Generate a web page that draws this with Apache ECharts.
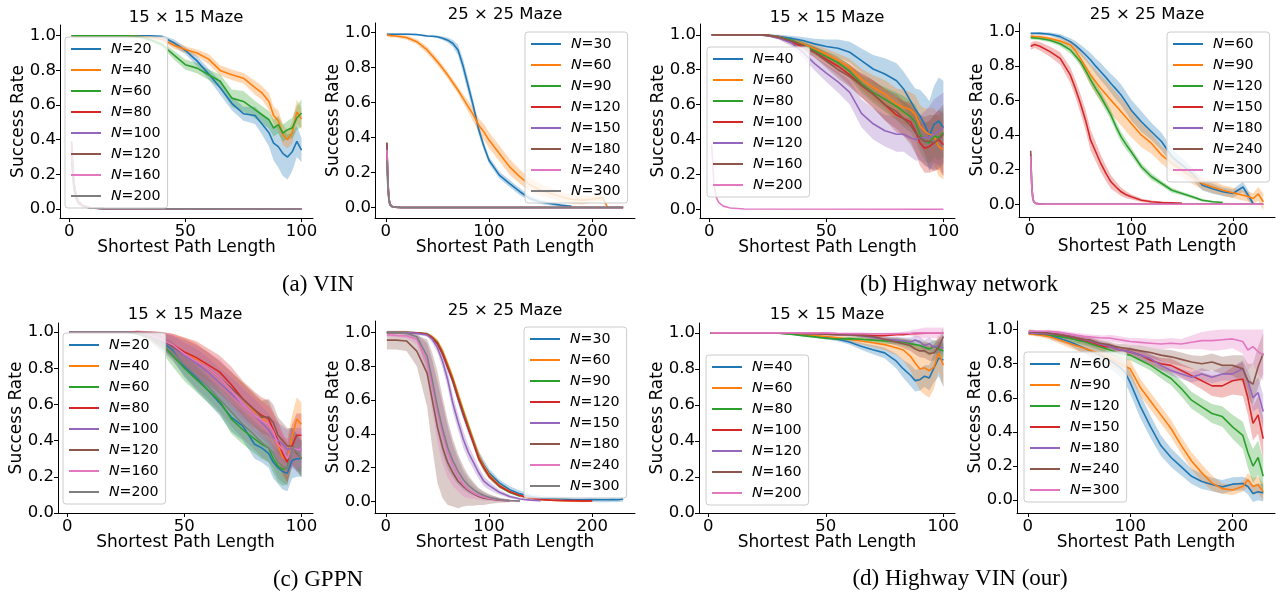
<!DOCTYPE html>
<html>
<head>
<meta charset="utf-8">
<script src="https://cdn.jsdelivr.net/npm/echarts@6/dist/echarts.min.js"></script>
<style>html,body{margin:0;padding:0;background:#fff;}#c{width:1279px;height:593px;}</style>
</head>
<body>
<div id="c"></div>
<script>
// ---------- shared x positions (shortest path length) ----------
const X15 = [1,5,10,15,20,25,30,35,40,45,50,55,60,65,70,75,80,83,86,88,90,92,94,96,98,100];
const X25 = [1,5,10,20,30,40,45,50,55,60,65,70,75,80,85,90,95,100,110,120,130,140,150,160,170,180,190,200,210,215,220,225,230];
const XC15 = [1,2,3,4,6,9,15,100];
const XC25 = [1,2,3,4,6,9,15,230];
const XT15 = [0,50,100];
const XT25 = [0,100,200];
const YT = [0,0.2,0.4,0.6,0.8,1.0];

// ---------- (a) VIN, 15x15 ----------
const vin15_N20 = [1,1,1,1,1,1,1,1,0.995,0.96,0.915,0.855,0.78,0.70,0.61,0.55,0.54,0.49,0.44,0.38,0.36,0.32,0.30,0.33,0.39,0.34];
const vin15_N20_e = [0.003,0.003,0.003,0.003,0.003,0.003,0.003,0.005,0.008,0.02,0.02,0.03,0.03,0.04,0.04,0.04,0.05,0.06,0.08,0.1,0.12,0.13,0.13,0.11,0.09,0.07];
const vin15_N40 = [1,1,1,1,1,1,0.995,0.99,0.98,0.945,0.92,0.90,0.865,0.80,0.775,0.755,0.70,0.67,0.62,0.54,0.51,0.43,0.40,0.44,0.56,0.52];
const vin15_N40_e = [0.003,0.003,0.003,0.003,0.003,0.003,0.005,0.006,0.01,0.02,0.02,0.02,0.03,0.03,0.03,0.03,0.04,0.04,0.05,0.05,0.06,0.06,0.05,0.06,0.07,0.06];
const vin15_N60 = [1,1,1,1,1,1,0.995,0.977,0.948,0.89,0.833,0.813,0.775,0.737,0.64,0.621,0.573,0.544,0.515,0.467,0.487,0.438,0.458,0.467,0.525,0.554];
const vin15_N60_e = [0.003,0.003,0.003,0.003,0.003,0.004,0.006,0.01,0.015,0.025,0.03,0.03,0.03,0.04,0.05,0.06,0.05,0.05,0.05,0.05,0.05,0.05,0.05,0.06,0.07,0.08];
const vin15_N80 = [0.36,0.15,0.075,0.04,0.018,0.007,0.002,0];
const vin15_N100 = [0.33,0.14,0.07,0.037,0.016,0.006,0.002,0];
const vin15_N120 = [0.39,0.16,0.08,0.045,0.02,0.008,0.002,0];
const vin15_N160 = [0.38,0.16,0.08,0.043,0.019,0.008,0.002,0];
const vin15_N200 = [0.27,0.12,0.06,0.032,0.014,0.006,0.002,0];

// ---------- (a) VIN, 25x25 ----------
const vin25_N30 = [0.99,0.99,0.99,0.99,0.988,0.98,0.978,0.975,0.967,0.956,0.937,0.90,0.805,0.69,0.575,0.445,0.35,0.27,0.185,0.137,0.09,0.05,0.032,0.022,0.013,0.007,null,null,null,null,null,null,null];
const vin25_N30_e = [0.005,0.005,0.005,0.005,0.005,0.006,0.006,0.008,0.01,0.015,0.02,0.03,0.04,0.04,0.035,0.03,0.025,0.02,0.02,0.02,0.02,0.015,0.012,0.01,0.008,0.005,null,null,null,null,null,null,null];
const vin25_N60 = [0.985,0.982,0.98,0.971,0.947,0.90,0.867,0.832,0.795,0.756,0.713,0.67,0.622,0.575,0.528,0.47,0.432,0.385,0.309,0.232,0.175,0.128,0.099,0.08,0.061,0.046,0.042,0.048,0.057,0,null,null,null];
const vin25_N60_e = [0.01,0.01,0.01,0.012,0.015,0.02,0.02,0.02,0.02,0.02,0.02,0.02,0.025,0.03,0.04,0.04,0.045,0.045,0.045,0.045,0.04,0.04,0.035,0.03,0.03,0.025,0.025,0.02,0.02,0.005,null,null,null];
const vin25_N90 = [0.30,0.12,0.04,0.015,0.005,0.002,0,0];
const vin25_N120 = [0.37,0.15,0.05,0.02,0.006,0.002,0,0];
const vin25_N150 = [0.36,0.14,0.05,0.02,0.006,0.002,0,0];
const vin25_N180 = [0.37,0.15,0.05,0.02,0.006,0.002,0,0];
const vin25_N240 = [0.33,0.13,0.045,0.018,0.005,0.002,0,0];
const vin25_N300 = [0.27,0.11,0.04,0.015,0.005,0.002,0,0];

// ---------- (b) Highway network, 15x15 ----------
const hw15_N40 = [1,1,1,1,1,0.998,0.99,0.98,0.967,0.948,0.933,0.923,0.90,0.852,0.804,0.775,0.737,0.69,0.62,0.573,0.535,0.487,0.42,0.487,0.506,0.467];
const hw15_N40_e = [0.002,0.002,0.002,0.002,0.003,0.005,0.01,0.015,0.02,0.03,0.04,0.05,0.06,0.07,0.08,0.09,0.1,0.1,0.11,0.12,0.15,0.17,0.2,0.22,0.25,0.27];
const hw15_N60 = [1,1,1,1,1,0.997,0.987,0.967,0.948,0.919,0.89,0.852,0.813,0.746,0.698,0.66,0.602,0.585,0.57,0.544,0.477,0.448,0.429,0.42,0.36,0.342];
const hw15_N60_e = [0.002,0.002,0.002,0.002,0.003,0.005,0.01,0.015,0.02,0.025,0.03,0.04,0.05,0.06,0.07,0.08,0.09,0.1,0.1,0.11,0.12,0.13,0.15,0.16,0.17,0.17];
const hw15_N80 = [1,1,1,1,1,0.997,0.985,0.97,0.94,0.91,0.875,0.84,0.79,0.72,0.67,0.63,0.59,0.56,0.53,0.5,0.43,0.39,0.38,0.42,0.41,0.44];
const hw15_N80_e = [0.002,0.002,0.002,0.002,0.003,0.005,0.01,0.015,0.02,0.025,0.03,0.035,0.04,0.05,0.06,0.07,0.08,0.09,0.09,0.1,0.1,0.11,0.12,0.12,0.13,0.14];
const hw15_N100 = [1,1,1,1,1,0.997,0.985,0.96,0.93,0.9,0.86,0.82,0.77,0.71,0.66,0.6,0.54,0.52,0.5,0.45,0.38,0.35,0.36,0.38,0.4,0.37];
const hw15_N100_e = [0.002,0.002,0.002,0.002,0.003,0.005,0.01,0.015,0.02,0.03,0.04,0.05,0.06,0.07,0.08,0.09,0.1,0.1,0.11,0.12,0.13,0.14,0.15,0.16,0.17,0.18];
const hw15_N120 = [1,1,1,1,1,0.995,0.98,0.955,0.9,0.835,0.78,0.73,0.67,0.55,0.49,0.45,0.43,0.43,0.41,0.40,0.41,0.41,0.41,0.43,0.45,0.47];
const hw15_N120_e = [0.002,0.002,0.002,0.002,0.003,0.005,0.01,0.02,0.03,0.04,0.05,0.06,0.07,0.08,0.09,0.09,0.1,0.1,0.11,0.12,0.13,0.15,0.18,0.2,0.2,0.2];
const hw15_N160 = [1,1,1,1,1,0.997,0.985,0.965,0.94,0.9,0.85,0.8,0.76,0.71,0.66,0.6,0.56,0.52,0.48,0.44,0.41,0.39,0.39,0.38,0.4,0.43];
const hw15_N160_e = [0.002,0.002,0.002,0.002,0.003,0.005,0.01,0.015,0.02,0.03,0.04,0.05,0.06,0.07,0.08,0.09,0.1,0.1,0.11,0.12,0.13,0.14,0.15,0.16,0.17,0.17];
const hw15_N200 = [0.37,0.15,0.07,0.04,0.018,0.007,0.002,0];

// ---------- (b) Highway network, 25x25 ----------
const hw25_N60 = [0.99,0.99,0.99,0.985,0.971,0.942,0.92,0.894,0.866,0.836,0.80,0.768,0.735,0.70,0.667,0.633,0.59,0.545,0.478,0.42,0.362,0.275,0.226,0.178,0.11,0.09,0.072,0.062,0.10,0.052,0.004,null,null];
const hw25_N60_e = [0.005,0.005,0.008,0.01,0.015,0.02,0.025,0.03,0.035,0.04,0.045,0.05,0.05,0.055,0.06,0.06,0.06,0.06,0.06,0.05,0.05,0.045,0.04,0.035,0.03,0.03,0.025,0.025,0.03,0.03,0.01,null,null];
const hw25_N90 = [0.975,0.972,0.97,0.96,0.945,0.923,0.89,0.845,0.797,0.749,0.71,0.671,0.637,0.603,0.57,0.536,0.502,0.468,0.40,0.352,0.284,0.236,0.197,0.159,0.12,0.10,0.081,0.066,0.052,0.045,0.033,0.06,0.014];
const hw25_N90_e = [0.01,0.01,0.01,0.012,0.015,0.02,0.03,0.04,0.05,0.06,0.07,0.075,0.08,0.08,0.08,0.08,0.08,0.08,0.07,0.06,0.05,0.05,0.04,0.04,0.035,0.035,0.03,0.03,0.03,0.03,0.03,0.04,0.05];
const hw25_N120 = [0.965,0.963,0.96,0.95,0.93,0.894,0.86,0.826,0.775,0.72,0.67,0.623,0.57,0.516,0.45,0.39,0.345,0.304,0.217,0.159,0.12,0.081,0.062,0.043,0.023,0.014,0.01,null,null,null,null,null,null];
const hw25_N120_e = [0.01,0.01,0.01,0.012,0.015,0.02,0.02,0.025,0.025,0.03,0.03,0.03,0.03,0.03,0.03,0.03,0.03,0.025,0.02,0.02,0.015,0.015,0.01,0.01,0.008,0.006,0.005,null,null,null,null,null,null];
const hw25_N150 = [0.915,0.925,0.915,0.884,0.845,0.749,0.671,0.584,0.487,0.371,0.304,0.236,0.18,0.13,0.10,0.072,0.055,0.043,0.023,0.014,0.01,0.008,0.006,null,null,null,null,null,null,null,null,null,null];
const hw25_N150_e = [0.02,0.02,0.025,0.03,0.035,0.045,0.05,0.055,0.06,0.06,0.055,0.05,0.045,0.04,0.03,0.025,0.02,0.015,0.01,0.008,0.006,0.005,0.004,null,null,null,null,null,null,null,null,null,null];
const hw25_N180 = [0.29,0.11,0.04,0.015,0.005,0.002,0,0];
const hw25_N240 = [0.31,0.12,0.04,0.015,0.005,0.002,0,0];
const hw25_N300 = [0.28,0.11,0.04,0.015,0.005,0.002,0,0];

// ---------- (c) GPPN, 15x15 ----------
const gp15_N20 = [1,1,1,1,1,1,0.995,0.98,0.95,0.9,0.81,0.75,0.68,0.61,0.53,0.48,0.38,0.36,0.33,0.28,0.25,0.23,0.22,0.29,0.3,0.3];
const gp15_N20_e = [0.002,0.002,0.002,0.002,0.002,0.003,0.01,0.02,0.035,0.05,0.06,0.07,0.07,0.07,0.08,0.08,0.08,0.08,0.08,0.09,0.09,0.1,0.1,0.1,0.1,0.1];
const gp15_N40 = [1,1,1,1,1,1,0.997,0.985,0.96,0.93,0.89,0.85,0.80,0.75,0.69,0.63,0.56,0.53,0.49,0.45,0.37,0.31,0.29,0.42,0.52,0.49];
const gp15_N40_e = [0.002,0.002,0.002,0.002,0.002,0.003,0.01,0.02,0.04,0.06,0.08,0.09,0.09,0.09,0.09,0.09,0.09,0.09,0.1,0.1,0.11,0.11,0.12,0.12,0.12,0.12];
const gp15_N60 = [1,1,1,1,1,1,0.993,0.975,0.94,0.87,0.80,0.74,0.68,0.62,0.52,0.46,0.41,0.38,0.36,0.3,0.26,0.24,0.25,0.37,0.34,0.3];
const gp15_N60_e = [0.002,0.002,0.002,0.002,0.002,0.003,0.01,0.025,0.045,0.06,0.07,0.07,0.07,0.07,0.08,0.08,0.08,0.08,0.08,0.08,0.09,0.09,0.09,0.1,0.1,0.1];
const gp15_N80 = [1,1,1,1,1,1,0.997,0.985,0.96,0.93,0.89,0.86,0.82,0.78,0.71,0.63,0.57,0.54,0.52,0.46,0.4,0.33,0.28,0.37,0.43,0.43];
const gp15_N80_e = [0.002,0.002,0.002,0.002,0.002,0.003,0.01,0.02,0.04,0.06,0.08,0.09,0.09,0.09,0.1,0.1,0.1,0.1,0.1,0.1,0.11,0.11,0.11,0.12,0.12,0.12];
const gp15_N100 = [1,1,1,1,1,1,0.996,0.98,0.955,0.92,0.87,0.83,0.78,0.72,0.66,0.6,0.54,0.5,0.46,0.42,0.4,0.38,0.35,0.36,0.35,0.35];
const gp15_N100_e = [0.002,0.002,0.002,0.002,0.002,0.003,0.01,0.02,0.04,0.06,0.07,0.08,0.08,0.08,0.09,0.09,0.09,0.09,0.09,0.1,0.1,0.1,0.11,0.11,0.12,0.12];
const gp15_N120 = [1,1,1,1,1,1,0.997,0.985,0.96,0.92,0.88,0.84,0.80,0.75,0.69,0.63,0.57,0.53,0.53,0.5,0.43,0.4,0.37,0.37,0.33,0.3];
const gp15_N120_e = [0.002,0.002,0.002,0.002,0.002,0.003,0.01,0.02,0.04,0.06,0.08,0.09,0.09,0.09,0.09,0.09,0.09,0.09,0.1,0.1,0.1,0.1,0.1,0.1,0.1,0.1];
const gp15_N160 = [1,1,1,1,1,1,0.997,0.985,0.96,0.93,0.88,0.84,0.80,0.75,0.68,0.6,0.54,0.51,0.49,0.45,0.38,0.35,0.3,0.36,0.35,0.35];
const gp15_N160_e = [0.002,0.002,0.002,0.002,0.002,0.003,0.01,0.02,0.04,0.06,0.08,0.09,0.09,0.1,0.1,0.1,0.1,0.1,0.1,0.1,0.1,0.1,0.1,0.1,0.1,0.1];
const gp15_N200 = [1,1,1,1,1,1,0.995,0.975,0.94,0.89,0.82,0.76,0.70,0.63,0.56,0.49,0.43,0.39,0.36,0.33,0.28,0.26,0.24,0.36,0.34,0.3];
const gp15_N200_e = [0.002,0.002,0.002,0.002,0.002,0.003,0.01,0.02,0.035,0.05,0.06,0.07,0.07,0.07,0.08,0.08,0.08,0.08,0.08,0.08,0.09,0.09,0.09,0.1,0.1,0.1];

// ---------- (c) GPPN, 25x25 ----------
const gp25_N30 = [1,1,1,1,0.998,0.99,0.968,0.935,0.875,0.795,0.71,0.61,0.515,0.43,0.35,0.27,0.215,0.17,0.11,0.07,0.045,0.03,0.02,0.018,0.015,0.012,0.01,0.012,0.01,0.01,0.012,0.01,0.015];
const gp25_N30_e = [0.005,0.005,0.005,0.005,0.005,0.008,0.01,0.015,0.02,0.025,0.025,0.03,0.03,0.03,0.03,0.03,0.03,0.025,0.02,0.02,0.02,0.015,0.015,0.015,0.015,0.015,0.015,0.015,0.015,0.015,0.015,0.015,0.015];
const gp25_N60 = [1,1,1,1,0.998,0.99,0.975,0.945,0.89,0.81,0.73,0.635,0.54,0.45,0.36,0.27,0.21,0.16,0.095,0.06,0.035,0.02,0.012,0.008,0.005,0.003,0.002,0.002,null,null,null,null,null];
const gp25_N60_e = [0.005,0.005,0.005,0.005,0.005,0.008,0.01,0.015,0.02,0.025,0.025,0.025,0.025,0.025,0.025,0.025,0.02,0.02,0.015,0.01,0.008,0.005,0.004,0.003,0.003,0.002,0.002,0.002,null,null,null,null,null];
const gp25_N90 = [1,1,1,1,0.998,0.99,0.97,0.94,0.88,0.80,0.72,0.62,0.53,0.44,0.35,0.26,0.2,0.15,0.09,0.055,0.032,null,null,null,null,null,null,null,null,null,null,null,null];
const gp25_N90_e = [0.005,0.005,0.005,0.005,0.005,0.008,0.01,0.015,0.02,0.02,0.02,0.02,0.02,0.02,0.02,0.02,0.02,0.015,0.01,0.008,0.006,null,null,null,null,null,null,null,null,null,null,null,null];
const gp25_N120 = [1,1,1,1,0.998,0.99,0.968,0.935,0.875,0.795,0.715,0.615,0.52,0.43,0.345,0.255,0.2,0.15,0.092,0.058,0.035,0.02,0.012,0.008,0.006,0.005,0.004,0.004,null,null,null,null,null];
const gp25_N120_e = [0.005,0.005,0.005,0.005,0.005,0.008,0.01,0.015,0.02,0.02,0.02,0.02,0.02,0.02,0.02,0.02,0.02,0.015,0.01,0.008,0.006,0.005,0.004,0.003,0.003,0.003,0.003,0.003,null,null,null,null,null];
const gp25_N150 = [1,1,1,1,0.995,0.985,0.96,0.91,0.83,0.72,0.58,0.47,0.37,0.29,0.23,0.17,0.12,0.095,0.055,0.03,0.015,0.008,0.005,null,null,null,null,null,null,null,null,null,null];
const gp25_N150_e = [0.005,0.005,0.005,0.005,0.008,0.01,0.02,0.03,0.04,0.05,0.05,0.05,0.05,0.045,0.04,0.035,0.03,0.025,0.015,0.01,0.006,0.004,0.003,null,null,null,null,null,null,null,null,null,null];
const gp25_N180 = [0.955,0.955,0.955,0.95,0.89,0.76,0.6,0.44,0.32,0.23,0.17,0.12,0.09,0.065,0.045,0.03,0.02,0.015,0.007,0.003,null,null,null,null,null,null,null,null,null,null,null,null,null];
const gp25_N180_e = [0.055,0.055,0.055,0.06,0.09,0.2,0.28,0.33,0.3,0.25,0.2,0.16,0.12,0.09,0.07,0.05,0.04,0.03,0.015,0.008,null,null,null,null,null,null,null,null,null,null,null,null,null];
const gp25_N240 = [0.985,0.985,0.982,0.98,0.96,0.83,0.68,0.53,0.4,0.29,0.21,0.15,0.1,0.07,0.05,0.035,0.025,0.018,0.01,0.005,0.003,null,null,null,null,null,null,null,null,null,null,null,null];
const gp25_N240_e = [0.01,0.01,0.01,0.015,0.03,0.1,0.15,0.18,0.18,0.15,0.12,0.09,0.07,0.05,0.035,0.025,0.02,0.015,0.01,0.005,0.003,null,null,null,null,null,null,null,null,null,null,null,null];
const gp25_N300 = [1,1,1,0.995,0.975,0.86,0.72,0.56,0.43,0.32,0.24,0.18,0.13,0.095,0.07,0.05,0.035,0.025,0.012,0.006,0.003,null,null,null,null,null,null,null,null,null,null,null,null];
const gp25_N300_e = [0.005,0.005,0.005,0.01,0.02,0.08,0.12,0.15,0.15,0.13,0.1,0.08,0.06,0.045,0.035,0.025,0.02,0.015,0.01,0.005,0.003,null,null,null,null,null,null,null,null,null,null,null,null];

// ---------- (d) Highway VIN, 15x15 ----------
const hv15_N40 = [1,1,1,1,1,1,0.998,0.995,0.99,0.982,0.975,0.965,0.95,0.926,0.907,0.889,0.843,0.8,0.765,0.735,0.74,0.76,0.75,0.805,0.86,0.85];
const hv15_N40_e = [0.001,0.001,0.001,0.001,0.001,0.001,0.002,0.003,0.005,0.008,0.01,0.012,0.015,0.02,0.025,0.03,0.04,0.05,0.06,0.06,0.06,0.06,0.07,0.08,0.1,0.15];
const hv15_N60 = [1,1,1,1,1,1,0.998,0.995,0.99,0.985,0.98,0.973,0.965,0.955,0.945,0.935,0.917,0.905,0.87,0.833,0.8,0.806,0.79,0.81,0.889,0.82];
const hv15_N60_e = [0.001,0.001,0.001,0.001,0.001,0.001,0.002,0.003,0.005,0.008,0.01,0.012,0.015,0.02,0.025,0.03,0.04,0.06,0.08,0.1,0.12,0.15,0.15,0.12,0.1,0.12];
const hv15_N80 = [1,1,1,1,1,1,0.998,0.993,0.985,0.978,0.97,0.966,0.968,0.965,0.96,0.955,0.955,0.95,0.94,0.935,0.93,0.92,0.91,0.925,0.91,0.9];
const hv15_N80_e = [0.001,0.001,0.001,0.001,0.001,0.001,0.002,0.003,0.004,0.005,0.006,0.008,0.01,0.012,0.015,0.015,0.02,0.02,0.025,0.025,0.03,0.03,0.035,0.035,0.04,0.04];
const hv15_N100 = [1,1,1,1,1,1,1,1,0.998,0.997,0.995,0.993,0.99,0.99,0.985,0.985,0.99,0.99,0.995,0.995,0.997,0.998,1,1,1,1];
const hv15_N120 = [1,1,1,1,1,1,1,0.998,0.997,0.995,0.993,0.99,0.99,0.985,0.975,0.965,0.96,0.955,0.95,0.96,0.95,0.93,0.94,0.92,0.93,0.915];
const hv15_N120_e = [0.001,0.001,0.001,0.001,0.001,0.001,0.001,0.002,0.003,0.004,0.005,0.006,0.008,0.01,0.012,0.015,0.02,0.02,0.025,0.025,0.03,0.03,0.035,0.035,0.04,0.04];
const hv15_N160 = [1,1,1,1,1,1,1,0.998,0.997,0.995,0.993,0.99,0.99,0.985,0.98,0.965,0.95,0.94,0.93,0.91,0.9,0.9,0.885,0.89,0.92,0.98];
const hv15_N160_e = [0.001,0.001,0.001,0.001,0.001,0.001,0.001,0.002,0.003,0.004,0.005,0.006,0.008,0.01,0.012,0.015,0.02,0.025,0.03,0.03,0.035,0.04,0.04,0.045,0.05,0.05];
const hv15_N200 = [1,1,1,1,1,1,1,1,1,1,1,0.998,0.997,0.996,0.995,0.995,0.995,0.997,0.998,1,1,1,1,1,1,1];
const hv15_N200_e = [0,0,0,0,0,0,0,0,0,0,0,0.002,0.003,0.004,0.005,0.006,0.008,0.01,0.015,0.02,0.025,0.03,0.03,0.03,0.03,0.03];

// ---------- (d) Highway VIN, 25x25 ----------
const hv25_N60 = [0.98,0.978,0.975,0.965,0.95,0.93,0.918,0.905,0.892,0.879,0.865,0.85,0.835,0.82,0.8,0.78,0.75,0.69,0.55,0.43,0.32,0.25,0.195,0.14,0.11,0.092,0.078,0.094,0.098,0.08,0.039,0.049,0.043];
const hv25_N60_e = [0.01,0.01,0.01,0.015,0.02,0.02,0.025,0.03,0.03,0.035,0.04,0.04,0.045,0.05,0.05,0.055,0.06,0.065,0.07,0.065,0.06,0.055,0.05,0.045,0.045,0.04,0.04,0.04,0.04,0.045,0.05,0.05,0.05];
const hv25_N90 = [0.975,0.972,0.97,0.96,0.94,0.92,0.91,0.9,0.89,0.88,0.87,0.86,0.845,0.83,0.815,0.8,0.785,0.77,0.66,0.58,0.50,0.42,0.32,0.23,0.16,0.10,0.068,0.06,0.08,0.12,0.08,0.09,0.05];
const hv25_N90_e = [0.01,0.01,0.012,0.015,0.02,0.025,0.025,0.03,0.03,0.03,0.03,0.035,0.035,0.04,0.04,0.04,0.045,0.05,0.05,0.05,0.05,0.05,0.05,0.05,0.05,0.045,0.03,0.03,0.03,0.04,0.05,0.05,0.05];
const hv25_N120 = [0.98,0.978,0.976,0.97,0.96,0.95,0.943,0.935,0.93,0.92,0.91,0.9,0.89,0.88,0.87,0.86,0.855,0.85,0.82,0.79,0.75,0.713,0.654,0.586,0.547,0.508,0.49,0.43,0.38,0.28,0.2,0.25,0.14];
const hv25_N120_e = [0.01,0.01,0.01,0.012,0.015,0.015,0.02,0.02,0.02,0.02,0.02,0.02,0.025,0.025,0.025,0.025,0.03,0.03,0.03,0.03,0.035,0.04,0.045,0.05,0.05,0.055,0.06,0.07,0.08,0.09,0.1,0.1,0.1];
const hv25_N150 = [0.98,0.978,0.977,0.975,0.97,0.96,0.953,0.945,0.938,0.93,0.92,0.91,0.9,0.9,0.89,0.88,0.875,0.87,0.85,0.82,0.8,0.79,0.76,0.73,0.7,0.67,0.67,0.7,0.71,0.6,0.45,0.5,0.36];
const hv25_N150_e = [0.01,0.01,0.01,0.01,0.012,0.015,0.015,0.015,0.02,0.02,0.02,0.02,0.02,0.02,0.02,0.02,0.02,0.025,0.03,0.03,0.035,0.04,0.04,0.045,0.05,0.06,0.07,0.08,0.1,0.1,0.1,0.11,0.12];
const hv25_N180 = [0.98,0.978,0.977,0.975,0.97,0.96,0.955,0.948,0.94,0.935,0.925,0.915,0.91,0.9,0.89,0.88,0.875,0.87,0.85,0.83,0.79,0.76,0.74,0.72,0.74,0.72,0.74,0.74,0.77,0.7,0.6,0.63,0.52];
const hv25_N180_e = [0.01,0.01,0.01,0.01,0.012,0.015,0.015,0.015,0.015,0.02,0.02,0.02,0.02,0.02,0.02,0.02,0.02,0.025,0.025,0.03,0.03,0.03,0.03,0.03,0.035,0.035,0.04,0.04,0.05,0.06,0.08,0.09,0.1];
const hv25_N240 = [0.99,0.988,0.985,0.98,0.97,0.96,0.955,0.948,0.942,0.94,0.93,0.92,0.915,0.91,0.9,0.895,0.89,0.885,0.875,0.865,0.85,0.84,0.825,0.81,0.8,0.81,0.79,0.79,0.77,0.7,0.68,0.78,0.86];
const hv25_N240_e = [0.01,0.01,0.01,0.01,0.012,0.015,0.015,0.015,0.015,0.02,0.02,0.02,0.02,0.02,0.02,0.02,0.025,0.025,0.03,0.03,0.035,0.04,0.04,0.04,0.045,0.05,0.05,0.06,0.08,0.1,0.12,0.12,0.12];
const hv25_N300 = [0.99,0.99,0.99,0.99,0.985,0.975,0.97,0.965,0.96,0.958,0.955,0.952,0.95,0.95,0.945,0.94,0.935,0.93,0.925,0.92,0.915,0.92,0.915,0.925,0.935,0.935,0.94,0.945,0.93,0.88,0.9,0.87,0.85];
const hv25_N300_e = [0.005,0.005,0.005,0.008,0.01,0.012,0.012,0.015,0.015,0.015,0.015,0.015,0.015,0.02,0.02,0.02,0.02,0.02,0.025,0.025,0.03,0.03,0.03,0.04,0.05,0.06,0.06,0.055,0.07,0.12,0.1,0.13,0.15];

// ---------- panel definitions ----------
const PANELS = [
  {key:'vin15', title:'15 × 15 Maze', ns:[20,40,60,80,100,120,160,200],
   xs:[X15,X15,X15,XC15,XC15,XC15,XC15,XC15],
   ys:[vin15_N20,vin15_N40,vin15_N60,vin15_N80,vin15_N100,vin15_N120,vin15_N160,vin15_N200],
   es:[vin15_N20_e,vin15_N40_e,vin15_N60_e,null,null,null,null,null]},
  {key:'vin25', title:'25 × 25 Maze', ns:[30,60,90,120,150,180,240,300],
   xs:[X25,X25,XC25,XC25,XC25,XC25,XC25,XC25],
   ys:[vin25_N30,vin25_N60,vin25_N90,vin25_N120,vin25_N150,vin25_N180,vin25_N240,vin25_N300],
   es:[vin25_N30_e,vin25_N60_e,null,null,null,null,null,null]},
  {key:'hw15', title:'15 × 15 Maze', ns:[40,60,80,100,120,160,200],
   xs:[X15,X15,X15,X15,X15,X15,XC15],
   ys:[hw15_N40,hw15_N60,hw15_N80,hw15_N100,hw15_N120,hw15_N160,hw15_N200],
   es:[hw15_N40_e,hw15_N60_e,hw15_N80_e,hw15_N100_e,hw15_N120_e,hw15_N160_e,null]},
  {key:'hw25', title:'25 × 25 Maze', ns:[60,90,120,150,180,240,300],
   xs:[X25,X25,X25,X25,XC25,XC25,XC25],
   ys:[hw25_N60,hw25_N90,hw25_N120,hw25_N150,hw25_N180,hw25_N240,hw25_N300],
   es:[hw25_N60_e,hw25_N90_e,hw25_N120_e,hw25_N150_e,null,null,null]},
  {key:'gp15', title:'15 × 15 Maze', ns:[20,40,60,80,100,120,160,200],
   xs:[X15,X15,X15,X15,X15,X15,X15,X15],
   ys:[gp15_N20,gp15_N40,gp15_N60,gp15_N80,gp15_N100,gp15_N120,gp15_N160,gp15_N200],
   es:[gp15_N20_e,gp15_N40_e,gp15_N60_e,gp15_N80_e,gp15_N100_e,gp15_N120_e,gp15_N160_e,gp15_N200_e]},
  {key:'gp25', title:'25 × 25 Maze', ns:[30,60,90,120,150,180,240,300],
   xs:[X25,X25,X25,X25,X25,X25,X25,X25],
   ys:[gp25_N30,gp25_N60,gp25_N90,gp25_N120,gp25_N150,gp25_N180,gp25_N240,gp25_N300],
   es:[gp25_N30_e,gp25_N60_e,gp25_N90_e,gp25_N120_e,gp25_N150_e,gp25_N180_e,gp25_N240_e,gp25_N300_e]},
  {key:'hv15', title:'15 × 15 Maze', ns:[40,60,80,100,120,160,200],
   xs:[X15,X15,X15,X15,X15,X15,X15],
   ys:[hv15_N40,hv15_N60,hv15_N80,hv15_N100,hv15_N120,hv15_N160,hv15_N200],
   es:[hv15_N40_e,hv15_N60_e,hv15_N80_e,null,hv15_N120_e,hv15_N160_e,hv15_N200_e]},
  {key:'hv25', title:'25 × 25 Maze', ns:[60,90,120,150,180,240,300],
   xs:[X25,X25,X25,X25,X25,X25,X25],
   ys:[hv25_N60,hv25_N90,hv25_N120,hv25_N150,hv25_N180,hv25_N240,hv25_N300],
   es:[hv25_N60_e,hv25_N90_e,hv25_N120_e,hv25_N150_e,hv25_N180_e,hv25_N240_e,hv25_N300_e]}
];

const CAPTIONS = ['(a) VIN','(b) Highway network','(c) GPPN','(d) Highway VIN (our)'];

// ---------- layout (pixels) ----------
const LAYOUT = [
  {left:60,  top:25,  width:253, height:193, xmin:-3.95, xmax:104.95, ymin:-0.052, ymax:1.062, xt:XT15, lg:[65,37],   tx:186, ty:18},
  {left:375, top:23,  width:260, height:195, xmin:-10.5, xmax:241.5,  ymin:-0.06,  ymax:1.054, xt:XT25, lg:[525,32],  tx:505, ty:15},
  {left:700, top:24,  width:255, height:194, xmin:-3.95, xmax:104.95, ymin:-0.05,  ymax:1.062, xt:XT15, lg:[707,47],  tx:827, ty:18},
  {left:1019,top:23,  width:256, height:194, xmin:-10.5, xmax:241.5,  ymin:-0.074, ymax:1.05,  xt:XT25, lg:[1167,32], tx:1147, ty:15},
  {left:58,  top:323, width:255, height:190, xmin:-3.95, xmax:104.95, ymin:0,      ymax:1.05,  xt:XT15, lg:[63,333],  tx:185, ty:315},
  {left:375, top:321, width:260, height:192, xmin:-10.5, xmax:241.5,  ymin:-0.068, ymax:1.068, xt:XT25, lg:[524,327], tx:505, ty:311},
  {left:699, top:323, width:256, height:190, xmin:-3.95, xmax:104.95, ymin:0,      ymax:1.055, xt:XT15, lg:[706,355], tx:827, ty:315},
  {left:1017,top:321, width:258, height:192, xmin:-10.5, xmax:241.5,  ymin:-0.075, ymax:1.05,  xt:XT25, lg:[1024,352],tx:1147, ty:310}
];
const CAPTION_POS = [[318,285],[959,285],[318,580],[960,579]];

const COLORS = ['#1f77b4','#ff7f0e','#2ca02c','#d62728','#9467bd','#8c564b','#e377c2','#7f7f7f'];
const FONT = 'DejaVu Sans';
const BAND_ALPHA = 0.3;

// band drawn as one polygon through the axis scales (api.coord)
function makeBandRenderer(color) {
  return function (params, api) {
    if (params.dataIndexInside !== 0) return null;
    const n = params.dataInsideLength;
    const up = [], dn = [];
    for (let j = 0; j < n; j++) {
      const x = api.value(0, j), lo = api.value(1, j), hi = api.value(2, j);
      if (isNaN(x) || isNaN(lo) || isNaN(hi)) continue;
      up.push(api.coord([x, hi]));
      dn.push(api.coord([x, lo]));
    }
    if (up.length < 2) return null;
    return {
      type:'polygon', silent:true,
      shape:{points: up.concat(dn.reverse())},
      style:{fill: color, opacity: BAND_ALPHA}
    };
  };
}

const grid = [], xAxis = [], yAxis = [], series = [], legend = [], graphic = [];

PANELS.forEach((p, k) => {
  const L = LAYOUT[k];
  grid.push({left:L.left, top:L.top, width:L.width, height:L.height, containLabel:false});
  xAxis.push({
    type:'value', gridIndex:k, min:L.xmin, max:L.xmax,
    name:'Shortest Path Length', nameLocation:'middle', nameGap:21, nameMoveOverlap:false,
    nameTextStyle:{fontFamily:FONT, fontSize:17, color:'#000'},
    axisLine:{onZero:false, lineStyle:{color:'#000', width:1}},
    axisTick:{customValues:L.xt, length:4, lineStyle:{color:'#000', width:1}},
    axisLabel:{customValues:L.xt, fontFamily:FONT, fontSize:16.5, color:'#000', margin:5},
    splitLine:{show:false}
  });
  yAxis.push({
    type:'value', gridIndex:k, min:L.ymin, max:L.ymax,
    name:'Success Rate', nameLocation:'middle', nameGap:33, nameRotate:90, nameMoveOverlap:false,
    nameTextStyle:{fontFamily:FONT, fontSize:17, color:'#000'},
    axisLine:{show:true, onZero:false, lineStyle:{color:'#000', width:1}},
    axisTick:{show:true, customValues:YT, length:4, lineStyle:{color:'#000', width:1}},
    axisLabel:{customValues:YT, fontFamily:FONT, fontSize:16.5, color:'#000', margin:4,
               formatter:v => Number(v).toFixed(1)},
    splitLine:{show:false}
  });

  const names = [];
  // confidence bands first
  p.ns.forEach((n, i) => {
    const e = p.es[i];
    if (!e) return;
    const xs = p.xs[i], ys = p.ys[i];
    const pts = [];
    xs.forEach((x, j) => {
      if (ys[j] != null && e[j] != null) pts.push([x, ys[j] - e[j], ys[j] + e[j]]);
    });
    series.push({
      type:'custom', name:p.key+'_band_'+n, xAxisIndex:k, yAxisIndex:k,
      data:pts, encode:{x:0, y:[1,2]}, clip:true, silent:true, z:2,
      renderItem: makeBandRenderer(COLORS[i])
    });
  });
  // mean lines
  p.ns.forEach((n, i) => {
    const xs = p.xs[i], ys = p.ys[i], c = COLORS[i];
    const nm = p.key + '_' + n;
    names.push(nm);
    series.push({
      type:'line', name:nm, xAxisIndex:k, yAxisIndex:k,
      data: xs.map((x, j) => [x, ys[j]]),
      symbol:'none', showSymbol:false, silent:true, z:3, color:c,
      lineStyle:{width:1.6, color:c}, itemStyle:{color:c}
    });
  });

  legend.push({
    data:names, orient:'vertical', left:L.lg[0], top:L.lg[1],
    icon:'rect', itemWidth:30, itemHeight:2, itemGap:7, padding:[5,7,5,6],
    itemStyle:{borderWidth:0},
    backgroundColor:'rgba(255,255,255,0.8)', borderColor:'#cccccc', borderWidth:1, borderRadius:3,
    selectedMode:false,
    formatter: name => '{i|N}=' + name.split('_')[1],
    textStyle:{fontFamily:FONT, fontSize:14.2, color:'#000', lineHeight:14, padding:[0,0,0,5],
      rich:{i:{fontFamily:FONT, fontSize:14.2, fontStyle:'italic', color:'#000', lineHeight:14}}}
  });

  graphic.push({type:'text', x:L.tx, y:L.ty, silent:true,
    style:{text:p.title, fontFamily:FONT, fontSize:16.5, fill:'#000', align:'center', verticalAlign:'middle'}});
});

CAPTIONS.forEach((t, i) => {
  graphic.push({type:'text', x:CAPTION_POS[i][0], y:CAPTION_POS[i][1], silent:true,
    style:{text:t, fontFamily:'Liberation Serif', fontSize:23, fill:'#000', align:'center', verticalAlign:'middle'}});
});

const chart = echarts.init(document.getElementById('c'), null, {renderer:'canvas'});
chart.setOption({
  backgroundColor:'#ffffff',
  animation:false,
  grid, xAxis, yAxis, series, legend, graphic
});
</script>
</body>
</html>
